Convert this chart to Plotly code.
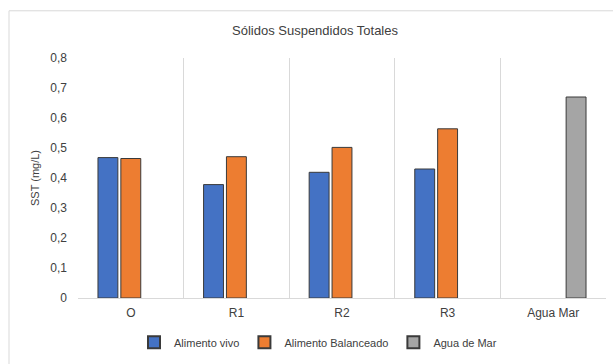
import plotly.graph_objects as go

categories = ["O", "R1", "R2", "R3", "Agua Mar"]
alimento_vivo = [0.468, 0.378, 0.419, 0.430, None]
alimento_balanceado = [0.465, 0.471, 0.502, 0.564, None]
agua_de_mar = [None, None, None, None, 0.670]
y_tickvals = [0, 0.1, 0.2, 0.3, 0.4, 0.5, 0.6, 0.7, 0.8]
y_ticktext = ["0", "0,1", "0,2", "0,3", "0,4", "0,5", "0,6", "0,7", "0,8"]

W, H = 613, 364
L, R, T, B = 78, 7, 58, 62
pw = W - L - R
ph = H - T - B

line = dict(color="#3a3a3a", width=1)
fig = go.Figure()
fig.add_bar(x=categories, y=alimento_vivo, name="Alimento vivo",
            marker=dict(color="#4472C4", line=line))
fig.add_bar(x=categories, y=alimento_balanceado, name="Alimento Balanceado",
            marker=dict(color="#ED7D31", line=line))
fig.add_bar(x=categories, y=agua_de_mar, name="Agua de Mar",
            marker=dict(color="#A5A5A5", line=line))

font = "Liberation Sans, Arial, sans-serif"
fig.update_layout(
    width=W, height=H,
    margin=dict(l=L, r=R, t=T, b=B, pad=0),
    paper_bgcolor="white", plot_bgcolor="white",
    font=dict(family=font, color="#404040", size=11),
    barmode="group", bargap=0.35, bargroupgap=0.13,
    title=dict(text="Sólidos Suspendidos Totales", x=315 / W, xanchor="center",
               y=1 - 30 / H, yanchor="middle",
               font=dict(size=13, color="#404040", family=font)),
    showlegend=True,
    legend=dict(orientation="h", x=(318 - L) / pw, xanchor="center",
                y=-(347 - (T + ph)) / ph, yanchor="middle",
                font=dict(size=11, color="#404040"), itemwidth=30,
                traceorder="normal", itemsizing="constant"),
    xaxis=dict(showgrid=True, gridcolor="#D9D9D9", gridwidth=1,
               tickson="boundaries", ticks="", showline=True,
               linecolor="#D9D9D9", linewidth=1,
               tickfont=dict(size=12, color="#404040"),
               ticklabelstandoff=4, zeroline=False),
    yaxis=dict(range=[0, 0.8], tickvals=y_tickvals, ticktext=y_ticktext,
               showgrid=False, zeroline=False, showline=False, ticks="",
               tickfont=dict(size=12, color="#404040"),
               ticklabelstandoff=10,
               title=dict(text="SST (mg/L)", font=dict(size=11, color="#404040"),
                          standoff=8)),
    shapes=[dict(type="rect", xref="paper", yref="paper",
                 x0=(9 - L) / pw, x1=1.2, y0=-0.5, y1=(ph + T - 10) / ph,
                 line=dict(color="#D9D9D9", width=1), layer="below")],
)

fig.write_html("out.html")
